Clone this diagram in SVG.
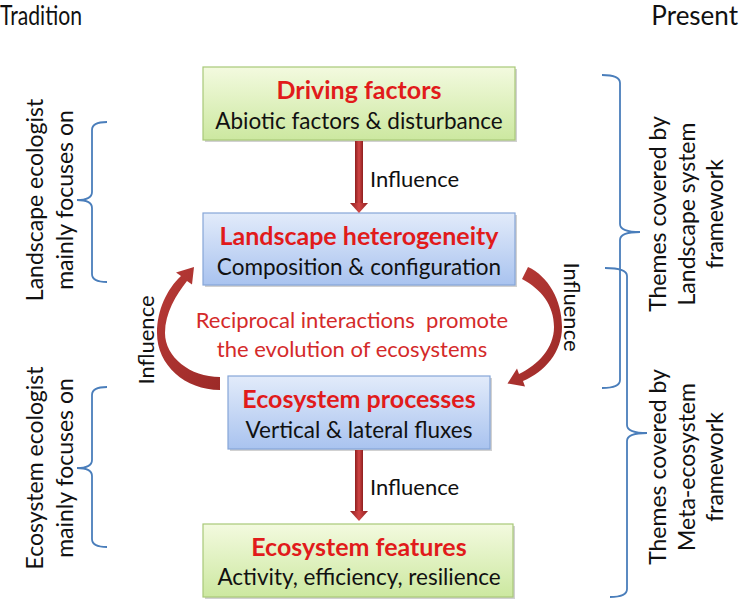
<svg xmlns="http://www.w3.org/2000/svg" width="740" height="601" viewBox="0 0 740 601">
<defs>
<linearGradient id="gGreen" x1="0" y1="0" x2="0" y2="1"><stop offset="0" stop-color="#f3fadf"/><stop offset="1" stop-color="#cce8a0"/></linearGradient>
<linearGradient id="gBlue" x1="0" y1="0" x2="0" y2="1"><stop offset="0" stop-color="#e2ebfa"/><stop offset="1" stop-color="#a9c3ef"/></linearGradient>
<linearGradient id="gShaft" x1="0" y1="0" x2="1" y2="0"><stop offset="0" stop-color="#8e1f1f"/><stop offset="0.5" stop-color="#d04545"/><stop offset="1" stop-color="#8e1f1f"/></linearGradient>
<linearGradient id="gCurve" x1="0" y1="0" x2="1" y2="1"><stop offset="0" stop-color="#b83a36"/><stop offset="1" stop-color="#9c2a28"/></linearGradient>
<style>
text{font-family:Lato,"Liberation Sans",sans-serif;}
.title{font-size:25px;font-weight:bold;fill:#e11b1b;text-anchor:middle;}
.sub{font-size:22.5px;fill:#111;text-anchor:middle;}
.lab{font-size:22px;fill:#111;}
.side{font-size:23px;fill:#111;text-anchor:middle;}
.head{font-size:26px;fill:#111;}
.mid{font-size:22px;fill:#d42a2a;text-anchor:middle;white-space:pre;}
.shadow{fill:#000;opacity:0.18;}
.green{fill:url(#gGreen);stroke:#a8c878;stroke-width:1.2;}
.blue{fill:url(#gBlue);stroke:#86a6d8;stroke-width:1.2;}
.br{fill:none;stroke:#4a7ebb;stroke-width:1.8;}
.arr{fill:url(#gShaft);}
.curve{fill:url(#gCurve);}
</style>
</defs>

<text class="head" x="0" y="25" textLength="82" lengthAdjust="spacingAndGlyphs">Tradition</text>
<text class="head" x="738" y="25" text-anchor="end">Present</text>

<g id="driving-factors">
<rect class="shadow" x="205" y="69" width="312" height="73"/>
<rect class="green" x="203" y="67" width="312" height="73"/>
<text class="title" x="359" y="99">Driving factors</text>
<text class="sub" x="359" y="129">Abiotic factors &amp; disturbance</text>
</g>

<g id="landscape-heterogeneity">
<rect class="shadow" x="205" y="215" width="312" height="72"/>
<rect class="blue" x="203" y="213" width="312" height="72"/>
<text class="title" x="359" y="245">Landscape heterogeneity</text>
<text class="sub" x="359" y="275">Composition &amp; configuration</text>
</g>

<g id="ecosystem-processes">
<rect class="shadow" x="230" y="378" width="262" height="73"/>
<rect class="blue" x="228" y="376" width="262" height="73"/>
<text class="title" x="359" y="408">Ecosystem processes</text>
<text class="sub" x="359" y="438">Vertical &amp; lateral fluxes</text>
</g>

<g id="ecosystem-features">
<rect class="shadow" x="205" y="526" width="310" height="73"/>
<rect class="green" x="203" y="524" width="310" height="73"/>
<text class="title" x="359" y="556">Ecosystem features</text>
<text class="sub" x="359" y="585">Activity, efficiency, resilience</text>
</g>

<g id="center-text">
<text class="mid" x="352" y="328" xml:space="preserve">Reciprocal interactions  promote</text>
<text class="mid" x="352" y="357">the evolution of ecosystems</text>
</g>

<g id="connectors">
<rect class="arr" x="355" y="141" width="8" height="63"/>
<polygon class="arr" points="350,203 368,203 359,213"/>
<text class="lab" x="370" y="187">Influence</text>

<rect class="arr" x="355" y="450" width="8" height="62"/>
<polygon class="arr" points="350,511 368,511 359,521"/>
<text class="lab" x="370" y="495">Influence</text>

<path class="curve" d="M220,390 C185,390 157,365 157,333 C157,310 167,289 181,276 L176,272.5 L194,267 L192,284.5 L187,281 C176,295 165,313 165,333 C165,357 190,377 220,377 Z"/>
<text class="lab" transform="translate(154,340) rotate(-90)" text-anchor="middle">Influence</text>

<path class="curve" d="M528,267 C548,276 562,300 562,327 C562,352 545,372 523,381 L525,386.5 L507.5,383.5 L517,368.5 L519,374 C538,365 554,348 554,327 C554,305 541,289 522,279 Z"/>
<text class="lab" transform="translate(564,307) rotate(90)" text-anchor="middle">Influence</text>
</g>

<g id="left-brackets">
<path class="br" d="M107,122 Q92,122 92,130 L92,192 Q92,200 77,200 Q92,200 92,208 L92,274 Q92,282 107,282"/>
<path class="br" d="M107,387 Q92,387 92,395 L92,460 Q92,468 77,468 Q92,468 92,476 L92,539 Q92,547 107,547"/>
<text class="side" transform="translate(43,200) rotate(-90)">Landscape ecologist</text>
<text class="side" transform="translate(73,200) rotate(-90)">mainly focuses on</text>
<text class="side" transform="translate(43,468) rotate(-90)">Ecosystem ecologist</text>
<text class="side" transform="translate(73,468) rotate(-90)">mainly focuses on</text>
</g>

<g id="right-brackets">
<path class="br" d="M602,75 Q620,75 620,83 L620,224 Q620,232 640,232 Q620,232 620,240 L620,380 Q620,388 602,388"/>
<path class="br" d="M605,268 Q627,268 627,276 L627,425 Q627,433 647,433 Q627,433 627,441 L627,589 Q627,597 610,597"/>
<text class="side" transform="translate(666,214) rotate(-90)">Themes covered by</text>
<text class="side" transform="translate(695,214) rotate(-90)">Landscape system</text>
<text class="side" transform="translate(723,214) rotate(-90)">framework</text>
<text class="side" transform="translate(666,467) rotate(-90)">Themes covered by</text>
<text class="side" transform="translate(695,467) rotate(-90)">Meta-ecosystem</text>
<text class="side" transform="translate(723,467) rotate(-90)">framework</text>
</g>
</svg>
